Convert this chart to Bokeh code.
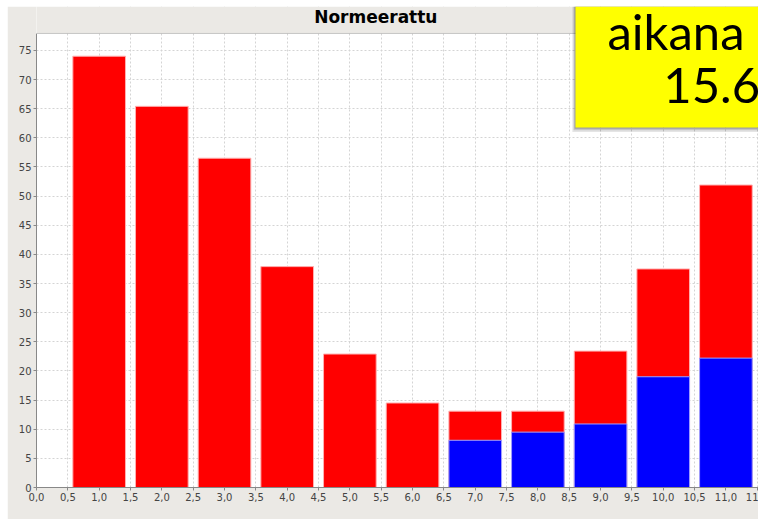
from bokeh.plotting import figure
from bokeh.models import Range1d, FixedTicker, Label, ColumnDataSource, Spacer, BoxAnnotation
from bokeh.layouts import row, column
from bokeh.embed import file_html
from bokeh.resources import INLINE

# ---- data ----
categories = [1, 2, 3, 4, 5, 6, 7, 8, 9, 10, 11]
red_totals = [74.0, 65.4, 56.5, 37.9, 22.9, 14.5, 13.1, 13.1, 23.4, 37.5, 51.9]
blue_values = [0, 0, 0, 0, 0, 0, 8.1, 9.5, 10.9, 19.0, 22.2]
x_ticks = [0.0, 0.5, 1.0, 1.5, 2.0, 2.5, 3.0, 3.5, 4.0, 4.5, 5.0, 5.5,
           6.0, 6.5, 7.0, 7.5, 8.0, 8.5, 9.0, 9.5, 10.0, 10.5, 11.0, 11.5]
x_tick_labels = ["0,0", "0,5", "1,0", "1,5", "2,0", "2,5", "3,0", "3,5", "4,0", "4,5",
                 "5,0", "5,5", "6,0", "6,5", "7,0", "7,5", "8,0", "8,5", "9,0", "9,5",
                 "10,0", "10,5", "11,0", "11"]
y_ticks = [0, 5, 10, 15, 20, 25, 30, 35, 40, 45, 50, 55, 60, 65, 70, 75]
title_text = "Normeerattu"
note_line1 = "aikana"
note_line2 = "15.6."

BG = "#EBE9E5"
X_MAX = 11.52
PLOT_TOP = 77.9     # top of the white plotting area
Y_MAX = 82.53       # frame extends into the title strip

p = figure(width=751, height=513, output_backend="svg", toolbar_location=None,
           x_range=Range1d(0, X_MAX), y_range=Range1d(0, Y_MAX),
           min_border_left=29, min_border_right=0, min_border_top=0, min_border_bottom=32,
           background_fill_color="white", border_fill_color=BG)
p.outline_line_color = None

src = ColumnDataSource(dict(x=categories, red=red_totals, blue=blue_values))
p.vbar(x="x", top="red", width=0.84, source=src, fill_color="#FF0000",
       line_color="#FFB0B0", line_width=1)
p.vbar(x="x", top="blue", width=0.84, source=src, fill_color="#0000FF",
       line_color="#A0A0FF", line_width=1)

# axes
p.xaxis.ticker = FixedTicker(ticks=x_ticks)
p.xaxis.major_label_overrides = {t: l for t, l in zip(x_ticks, x_tick_labels)}
p.yaxis.ticker = FixedTicker(ticks=y_ticks)
p.yaxis.bounds = (0, PLOT_TOP)
for ax in (p.xaxis[0], p.yaxis[0]):
    ax.axis_line_color = "#888888"
    ax.major_tick_line_color = "#888888"
    ax.major_tick_in = 0
    ax.major_tick_out = 3
    ax.minor_tick_line_color = None
    ax.major_label_text_font = "DejaVu Sans"
    ax.major_label_text_font_size = "10px"
    ax.major_label_text_color = "#444444"
    ax.major_label_standoff = 2

p.xgrid.ticker = FixedTicker(ticks=x_ticks)
p.ygrid.ticker = FixedTicker(ticks=y_ticks)
for g in (p.xgrid[0], p.ygrid[0]):
    g.grid_line_color = "#D4D4D4"
    g.grid_line_dash = "2 2"
    g.grid_line_width = 1

# gray title strip above the plotting area, with the plot's top border line
p.add_layout(BoxAnnotation(left=-0.2, bottom=PLOT_TOP, fill_color=BG, fill_alpha=1.0,
                           line_color=None, level="overlay"))
p.add_layout(BoxAnnotation(bottom=PLOT_TOP, top=PLOT_TOP, line_color="#A0A0A0",
                           line_width=1, fill_alpha=0, level="overlay"))

p.add_layout(Label(x=5.414, y=80.65, text=title_text, text_font="DejaVu Sans",
                   text_font_size="17px", text_font_style="bold", text_color="black",
                   text_align="center", text_baseline="middle", level="overlay"))

# yellow note box with soft shadow
for dx, dy, a in [(0.05, 0.75, 0.10), (0.03, 0.45, 0.14), (0.015, 0.2, 0.18)]:
    p.add_layout(BoxAnnotation(left=8.60 - dx, bottom=61.75 - dy, fill_color="black",
                               fill_alpha=a, line_color=None, level="overlay"))
p.add_layout(BoxAnnotation(left=8.60, bottom=61.75, fill_color="#FFFF00", fill_alpha=1.0,
                           line_color=None, level="overlay"))
p.add_layout(Label(x=9.11, y=78.3, text=note_line1, text_font="Lato",
                   text_font_size="49px", text_color="black", text_baseline="alphabetic",
                   level="overlay"))
p.add_layout(Label(x=10.0, y=68.9, text=note_line2, text_font="Lato",
                   text_font_size="49px", text_color="black", text_baseline="alphabetic",
                   level="overlay"))

layout = row(Spacer(width=7), column(Spacer(height=6), p))
open("out.html", "w").write(file_html(layout, INLINE))
